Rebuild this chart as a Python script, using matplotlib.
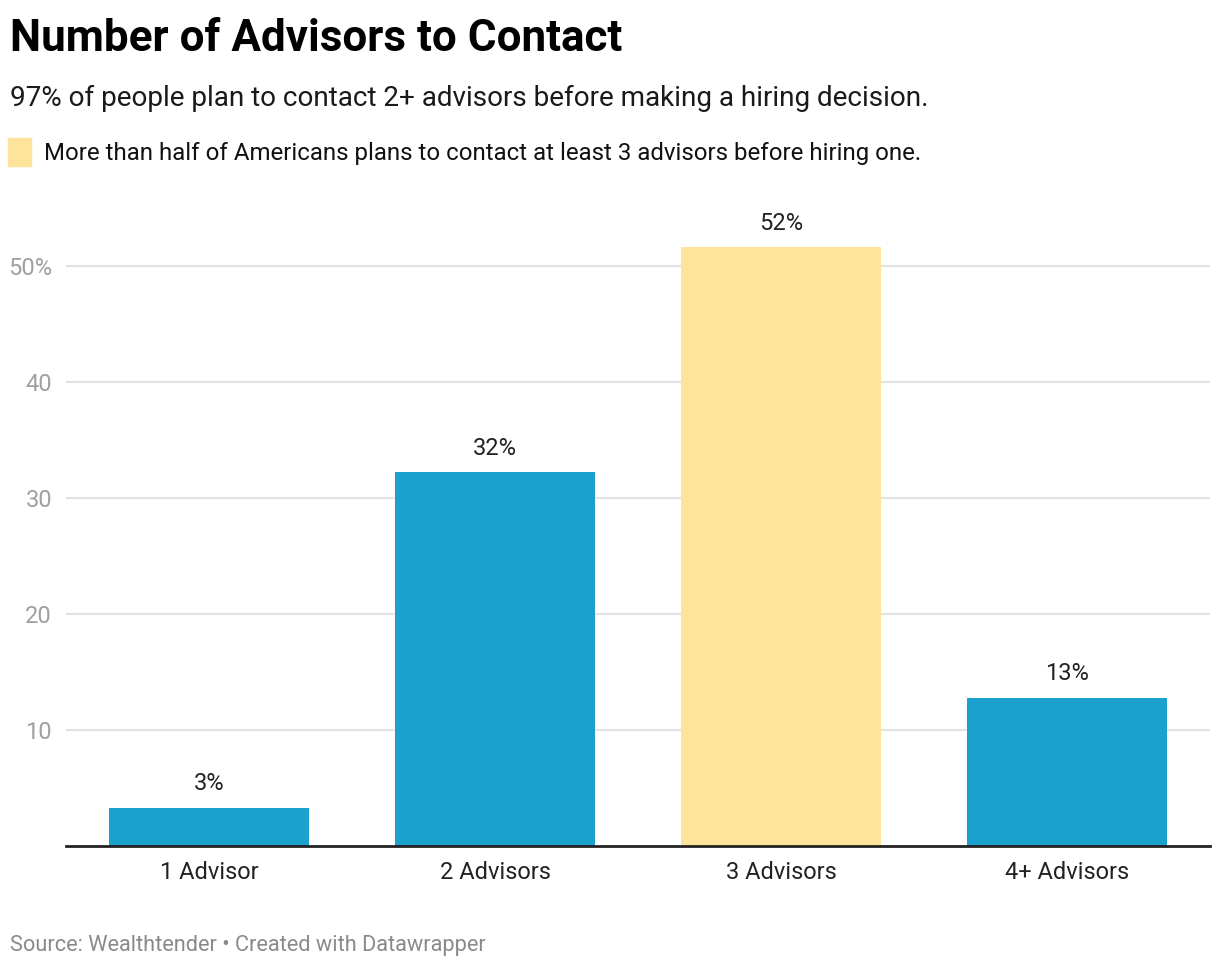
import matplotlib.pyplot as plt

categories = ["1 Advisor", "2 Advisors", "3 Advisors", "4+ Advisors"]
values = [3.3, 32.2, 51.6, 12.8]
labels = ["3%", "32%", "52%", "13%"]
highlight = [False, False, True, False]
yticks = [10, 20, 30, 40, 50]
ytick_labels = ["10", "20", "30", "40", "50%"]

blue = "#1aa1ce"
yellow = "#fee39b"

plt.rcParams['font.family'] = ['Roboto', 'DejaVu Sans']

fig = plt.figure(figsize=(12.2, 9.68), dpi=100)
ax = fig.add_axes([66 / 1220, 122 / 968, 1144 / 1220, 638 / 968])

x = range(len(categories))
colors = [yellow if h else blue for h in highlight]
ax.bar(x, values, width=0.7, color=colors, zorder=2)

for i, v in enumerate(values):
    ax.annotate(labels[i], (i, v), xytext=(0, 9), textcoords="offset points",
                ha="center", va="bottom", fontsize=17, color="#222222")

ax.set_xlim(-0.5, 3.5)
ax.set_ylim(0, 55)
ax.set_yticks(yticks)
ax.set_yticklabels(ytick_labels, fontsize=17, color="#a0a0a0")
ax.set_xticks(list(x))
ax.set_xticklabels(categories, fontsize=17, color="#222222")
ax.tick_params(axis="y", length=0, pad=10)
ax.tick_params(axis="x", length=0, pad=11)
ax.grid(axis="y", color="#e2e2e2", linewidth=1.5, zorder=0)
for s in ["top", "right", "left"]:
    ax.spines[s].set_visible(False)
ax.spines["bottom"].set_color("#222222")
ax.spines["bottom"].set_linewidth(2)
ax.spines["bottom"].set_zorder(3)

fig.text(10 / 1220, 1 - 51 / 968, "Number of Advisors to Contact", fontsize=31.7,
         fontweight="bold", color="#000000", ha="left", va="baseline")
fig.text(10 / 1220, 1 - 106 / 968,
         "97% of people plan to contact 2+ advisors before making a hiring decision.",
         fontsize=20.1, color="#1a1a1a", ha="left", va="baseline")
fig.patches.append(plt.Rectangle((8 / 1220, 1 - 166 / 968), 23 / 1220, 28 / 968,
                                 transform=fig.transFigure, color=yellow, figure=fig))
fig.text(44 / 1220, 1 - 160 / 968,
         "More than half of Americans plans to contact at least 3 advisors before hiring one.",
         fontsize=17.3, color="#111111", ha="left", va="baseline")
fig.text(10 / 1220, 1 - 951 / 968, "Source: Wealthtender • Created with Datawrapper",
         fontsize=15.7, color="#8a8a8a", ha="left", va="baseline")

fig.savefig("out.png", dpi=100)
